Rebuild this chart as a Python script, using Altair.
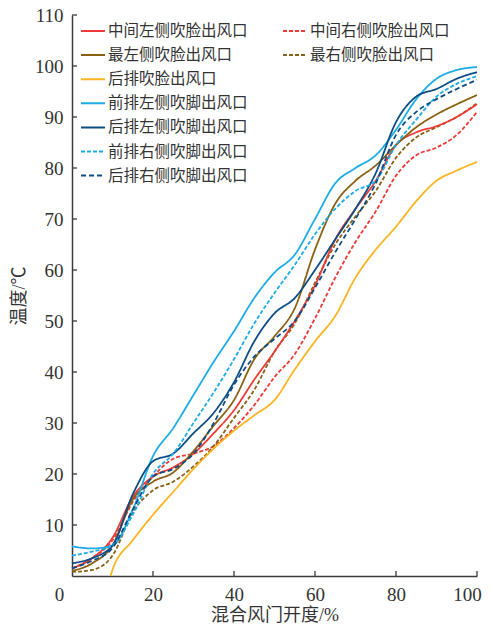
import altair as alt
import pandas as pd

# ---- data ----
X = [0, 5, 10, 15, 20, 25, 30, 35, 40, 45, 50, 55, 60, 65, 70, 75, 80, 85, 90, 95, 100]

mid_left_face = [1.5, 3.5, 7.5, 15.5, 19.5, 21.3, 24, 28, 32.5, 38.5, 44, 50, 57, 66, 72, 77.5, 84.5, 87, 88.2, 90, 92.5]
mid_right_face = [1.5, 3.5, 7, 14.5, 19.5, 23, 24, 25.5, 29, 33.5, 39, 43.5, 50.5, 58.5, 65.5, 71.5, 78.5, 82.5, 84, 86.5, 91]
far_left_face = [1, 2.5, 6, 15, 18.5, 20.3, 24.5, 29.5, 34.5, 42.5, 47, 52.5, 64, 73, 77.5, 80.5, 84.5, 88, 90.5, 92.5, 94.3]
far_right_face = [0.8, 1.2, 4, 12.5, 16.8, 18.5, 21.5, 25.5, 31, 36.5, 44, 49.5, 57.5, 65, 70.5, 75.5, 82, 86, 88, 90, 92.7]
front_left_foot = [5.8, 5.4, 6, 13, 23.5, 29, 35.5, 42, 48, 54.5, 59.5, 63, 70, 77, 80, 82.5, 87.5, 93.5, 97.5, 99.2, 99.8]
rear_left_foot = [2.5, 3.5, 6, 16, 22.5, 24, 28, 32, 38, 46, 51.5, 54.5, 60, 66, 72, 79, 89, 94, 95.5, 97.5, 98.8]
front_right_foot = [4, 4.8, 6, 12, 20, 24, 30, 36, 42.5, 49.5, 55.5, 61, 67, 72, 75.5, 77.5, 84.5, 89.5, 94, 96.5, 98]
rear_right_foot = [1.5, 3, 5.5, 13, 19.5, 21, 24, 30, 37.5, 43, 46.5, 50, 56.5, 63.5, 70, 77, 86.5, 91, 93.5, 95.5, 97.3]

X_rear_face = [9.5, 10, 15, 20, 25, 30, 35, 40, 45, 50, 55, 60, 65, 70, 75, 80, 85, 90, 95, 100]
rear_face = [0, 1.2, 7, 12, 16.5, 21, 25, 28.5, 31.5, 34.5, 40.5, 46, 51, 58.5, 64, 68.5, 73.5, 77.5, 79.5, 81.2]

names_a = ["中间左侧吹脸出风口", "最左侧吹脸出风口", "后排吹脸出风口", "前排左侧吹脚出风口",
           "后排左侧吹脚出风口", "前排右侧吹脚出风口", "后排右侧吹脚出风口"]
values_a = [mid_left_face, far_left_face, rear_face, front_left_foot,
            rear_left_foot, front_right_foot, rear_right_foot]
xs_a = [X, X, X_rear_face, X, X, X, X]
colors_a = ["#ee3b36", "#8a6114", "#fbb521", "#1cace6", "#0d4d84", "#1cace6", "#0d4d84"]
dash_a = [[1, 0], [1, 0], [1, 0], [1, 0], [1, 0], [4, 2], [5, 3]]

names_b = ["中间右侧吹脸出风口", "最右侧吹脸出风口"]
values_b = [mid_right_face, far_right_face]
colors_b = ["#ee3b36", "#8a6114"]
dash_b = [[4, 2], [4, 2]]

y_ticks = [10, 20, 30, 40, 50, 60, 70, 80, 90, 100, 110]
x_ticks = [0, 20, 40, 60, 80, 100]

W, H = 405, 561
FONT = "'Liberation Serif', 'Times New Roman', 'Noto Sans CJK SC', serif"

rows_a = [{"x": xv, "y": yv, "series": n, "order": i}
          for n, xs, ys in zip(names_a, xs_a, values_a) for i, (xv, yv) in enumerate(zip(xs, ys))]
rows_b = [{"x": xv, "y": yv, "series": n, "order": i}
          for n, ys in zip(names_b, values_b) for i, (xv, yv) in enumerate(zip(X, ys))]
df_a = pd.DataFrame(rows_a)
df_b = pd.DataFrame(rows_b)

x_enc = alt.X("x:Q", scale=alt.Scale(domain=[0, 100], nice=False),
              axis=alt.Axis(values=x_ticks, title="混合风门开度/%", grid=False, ticks=False,
                            labelFlush=False, labelPadding=9, labelFontSize=19, titleFontSize=18, titlePadding=2,
                            labelOffset={"condition": [{"test": "datum.value == 0", "value": -13},
                                                       {"test": "datum.value == 100", "value": -10}],
                                         "value": 0},
                            labelFont=FONT, titleFont=FONT, titleFontWeight="normal",
                            domainColor="#3a3a3a", domainWidth=1.5, labelColor="#333", titleColor="#333"))
y_enc = alt.Y("y:Q", scale=alt.Scale(domain=[0, 110], nice=False),
              axis=alt.Axis(values=y_ticks, title="温度/℃", grid=False, ticks=False,
                            labelFlush=False, labelPadding=9, labelFontSize=19, titleFontSize=18, titlePadding=6,
                            labelFont=FONT, titleFont=FONT, titleFontWeight="normal",
                            domainColor="#3a3a3a", domainWidth=1.5, labelColor="#333", titleColor="#333"))


def legend(x):
    return alt.Legend(title=None, orient="none", legendX=x, legendY=3, padding=0,
                      symbolType="stroke", symbolSize=576, symbolStrokeWidth=2,
                      labelFont=FONT, labelFontSize=15.5, labelColor="#333", labelOffset=2,
                      rowPadding=2.1, labelLimit=400)


line_a = alt.Chart(df_a).mark_line(interpolate="monotone", strokeWidth=1.8).encode(
    x=x_enc, y=y_enc,
    color=alt.Color("series:N", scale=alt.Scale(domain=names_a, range=colors_a), legend=legend(8)),
    strokeDash=alt.StrokeDash("series:N", scale=alt.Scale(domain=names_a, range=dash_a), legend=legend(8)),
    order="order:Q",
)
line_b = alt.Chart(df_b).mark_line(interpolate="monotone", strokeWidth=1.8).encode(
    x="x:Q", y="y:Q",
    color=alt.Color("series:N", scale=alt.Scale(domain=names_b, range=colors_b), legend=legend(210)),
    strokeDash=alt.StrokeDash("series:N", scale=alt.Scale(domain=names_b, range=dash_b), legend=legend(210)),
    order="order:Q",
)

ytick_df = pd.DataFrame({"t": y_ticks})
xtick_df = pd.DataFrame({"t": x_ticks[1:]})
yticks = alt.Chart(ytick_df).mark_rule(color="#3a3a3a", strokeWidth=1.3).encode(
    y="t:Q", x=alt.value(0), x2=alt.value(5))
xticks = alt.Chart(xtick_df).mark_rule(color="#3a3a3a", strokeWidth=1.3).encode(
    x="t:Q", y=alt.value(H), y2=alt.value(H - 5))

chart = alt.layer(line_b, line_a, yticks, xticks).resolve_scale(
    color="independent", strokeDash="independent"
).properties(
    width=W, height=H,
    padding={"left": 64, "top": 7, "right": 6, "bottom": 49},
    autosize=alt.AutoSizeParams(type="none"),
).configure_view(stroke=None)

chart.save("out.html", embed_options={"renderer": "svg", "actions": False})
